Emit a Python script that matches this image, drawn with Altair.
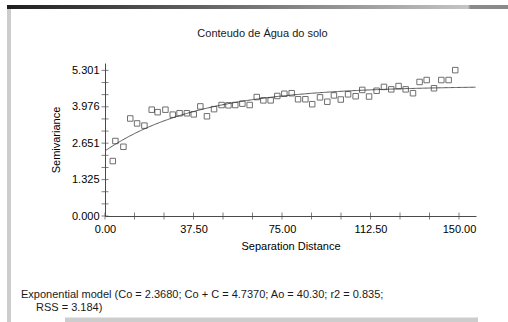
import altair as alt
import pandas as pd

# Experimental semivariogram: lag distance and semivariance
distance = [3.3, 4.4, 7.8, 10.7, 13.6, 16.7, 19.8, 22.3, 25.6, 28.7, 31.6, 34.7, 37.6,
            40.4, 43.2, 46.2, 49.4, 52.3, 55.2, 58.2, 61.3, 64.3, 67.1, 70.2, 73.0, 76.0,
            79.1, 81.8, 84.9, 87.8, 91.1, 94.2, 97.0, 99.9, 103.0, 106.2, 109.0, 111.9,
            115.1, 118.2, 121.3, 124.4, 127.4, 130.5, 133.3, 136.3, 139.4, 142.5, 145.6, 148.4]
semivariance = [2.00, 2.73, 2.52, 3.55, 3.37, 3.29, 3.87, 3.78, 3.87, 3.69, 3.74, 3.74, 3.70,
                3.99, 3.63, 3.89, 4.04, 4.03, 4.04, 4.09, 4.04, 4.33, 4.21, 4.21, 4.37, 4.45,
                4.47, 4.25, 4.25, 4.07, 4.32, 4.16, 4.39, 4.24, 4.43, 4.36, 4.59, 4.35,
                4.56, 4.70, 4.61, 4.73, 4.61, 4.47, 4.88, 4.95, 4.65, 4.95, 4.95, 5.31]

# Fitted exponential model parameters
NUGGET = 2.3680
SILL = 4.7370
RANGE_AO = 40.30
R2 = 0.835
RSS = 3.184

X_MAX = 157.2
Y_MAX = 5.57

x_ticks = [0, 12.5, 25, 37.5, 50, 62.5, 75, 87.5, 100, 112.5, 125, 137.5, 150]
x_labels = ["0.00", "37.50", "75.00", "112.50", "150.00"]
y_ticks = [0, 0.442, 0.884, 1.325, 1.767, 2.209, 2.651, 3.092, 3.534, 3.976, 4.418, 4.859, 5.301]
y_labels = ["0.000", "1.325", "2.651", "3.976", "5.301"]

TITLE = "Conteudo de Água do solo"
FONT = "Liberation Sans"
AXIS_COLOR = "#4a4a4a"
TEXT_COLOR = "#1a1a1a"
FRAME_GRAY = "#cdcdcd"

points = pd.DataFrame({"h": distance, "g": semivariance})
xt = pd.DataFrame({"v": x_ticks, "z": [0] * len(x_ticks)})
yt = pd.DataFrame({"v": y_ticks, "z": [0] * len(y_ticks)})
one_row = pd.DataFrame({"k": [0]})

xscale = alt.Scale(domain=[0, X_MAX], nice=False, zero=False)
yscale = alt.Scale(domain=[0, Y_MAX], nice=False, zero=False)

x_label_expr = "indexof(%s, format(datum.value, '.2f')) >= 0 ? format(datum.value, '.2f') : ''" % str(x_labels)
y_label_expr = "indexof(%s, format(datum.value, '.3f')) >= 0 ? format(datum.value, '.3f') : ''" % str(y_labels)

x_axis = alt.Axis(values=x_ticks, labelExpr=x_label_expr, ticks=False, grid=False,
                  labelOverlap=False, labelFlush=False, labelPadding=7, labelFontSize=11,
                  title="Separation Distance", titlePadding=6, titleFontSize=11,
                  titleFontWeight="normal", domainColor=AXIS_COLOR)
y_axis = alt.Axis(values=y_ticks, labelExpr=y_label_expr, ticks=False, grid=False,
                  labelOverlap=False, labelFlush=False, labelPadding=6, labelFontSize=11,
                  title="Semivariance", titlePadding=10, titleFontSize=11,
                  titleFontWeight="normal", domainColor=AXIS_COLOR)

X = lambda f: alt.X(f, scale=xscale, axis=x_axis)
Y = lambda f: alt.Y(f, scale=yscale, axis=y_axis)

# exponential model curve
model = alt.Chart(alt.sequence(0, X_MAX + 0.01, 0.5, as_="h")).transform_calculate(
    g=f"{NUGGET} + ({SILL} - {NUGGET}) * (1 - exp(-datum.h / {RANGE_AO}))"
).mark_line(color="#555555", strokeWidth=1, clip=True).encode(x=X("h:Q"), y=Y("g:Q"))

obs = alt.Chart(points).mark_point(shape="square", filled=False, size=30,
                                   color="#333333", strokeWidth=1).encode(x=X("h:Q"), y=Y("g:Q"))

# axis ticks drawn across the axis lines
x_tick_marks = alt.Chart(xt).mark_tick(orient="vertical", size=7, thickness=1,
                                       color=AXIS_COLOR).encode(x=X("v:Q"), y=Y("z:Q"))
y_tick_marks = alt.Chart(yt).mark_tick(orient="horizontal", size=7, thickness=1,
                                       color=AXIS_COLOR).encode(y=Y("v:Q"), x=X("z:Q"))

footer1 = alt.Chart(pd.DataFrame({"t": [
    f"Exponential model (Co = {NUGGET:.4f}; Co + C = {SILL:.4f}; Ao = {RANGE_AO:.2f}; r2 = {R2:.3f};"
]})).mark_text(align="left", baseline="middle", fontSize=11, font=FONT,
               color=TEXT_COLOR, clip=False).encode(text="t:N", x=alt.value(-84), y=alt.value(232))

footer2 = alt.Chart(pd.DataFrame({"t": [f"RSS = {RSS:.3f})"]})).mark_text(
    align="left", baseline="middle", fontSize=11, font=FONT, color=TEXT_COLOR, clip=False
).encode(text="t:N", x=alt.value(-69), y=alt.value(245))

# window frame around the graph panel
top_bar = alt.Chart(one_row).mark_rect(clip=False, fill=alt.Gradient(
    gradient="linear", x1=0, x2=1, y1=0, y2=0,
    stops=[alt.GradientStop(offset=0, color="#1e1e1e"),
           alt.GradientStop(offset=0.45, color="#6e6e6e"),
           alt.GradientStop(offset=0.92, color="#c4c4c4"),
           alt.GradientStop(offset=0.925, color="#8a8a8a"),
           alt.GradientStop(offset=1, color="#8a8a8a")])).encode(
    x=alt.value(-98), x2=alt.value(403), y=alt.value(-58), y2=alt.value(-54))
left_bar = alt.Chart(one_row).mark_rect(clip=False, fill=FRAME_GRAY).encode(
    x=alt.value(-98), x2=alt.value(-94), y=alt.value(-54), y2=alt.value(259))
bottom_bar = alt.Chart(one_row).mark_rect(clip=False, fill=FRAME_GRAY).encode(
    x=alt.value(-40), x2=alt.value(373), y=alt.value(254.5), y2=alt.value(259))

chart = alt.layer(model, obs, x_tick_marks, y_tick_marks, footer1, footer2,
                  top_bar, left_bar, bottom_bar).properties(
    width=371, height=153,
    view=alt.ViewBackground(stroke=None, strokeWidth=0),
    title=alt.TitleParams(TITLE, fontSize=11, fontWeight="normal",
                          font=FONT, color=TEXT_COLOR, anchor="middle", frame="group",
                          dx=-28, dy=58, offset=24),
    autosize=alt.AutoSizeParams(type="none"),
    padding={"left": 105, "top": 63, "right": 32, "bottom": 106},
).configure_view(stroke=None, strokeWidth=0).configure_axis(
    labelFont=FONT, titleFont=FONT, labelColor=TEXT_COLOR, titleColor=TEXT_COLOR
).configure(background="white")

chart.save("out.html", embed_options={"renderer": "svg", "actions": False})
